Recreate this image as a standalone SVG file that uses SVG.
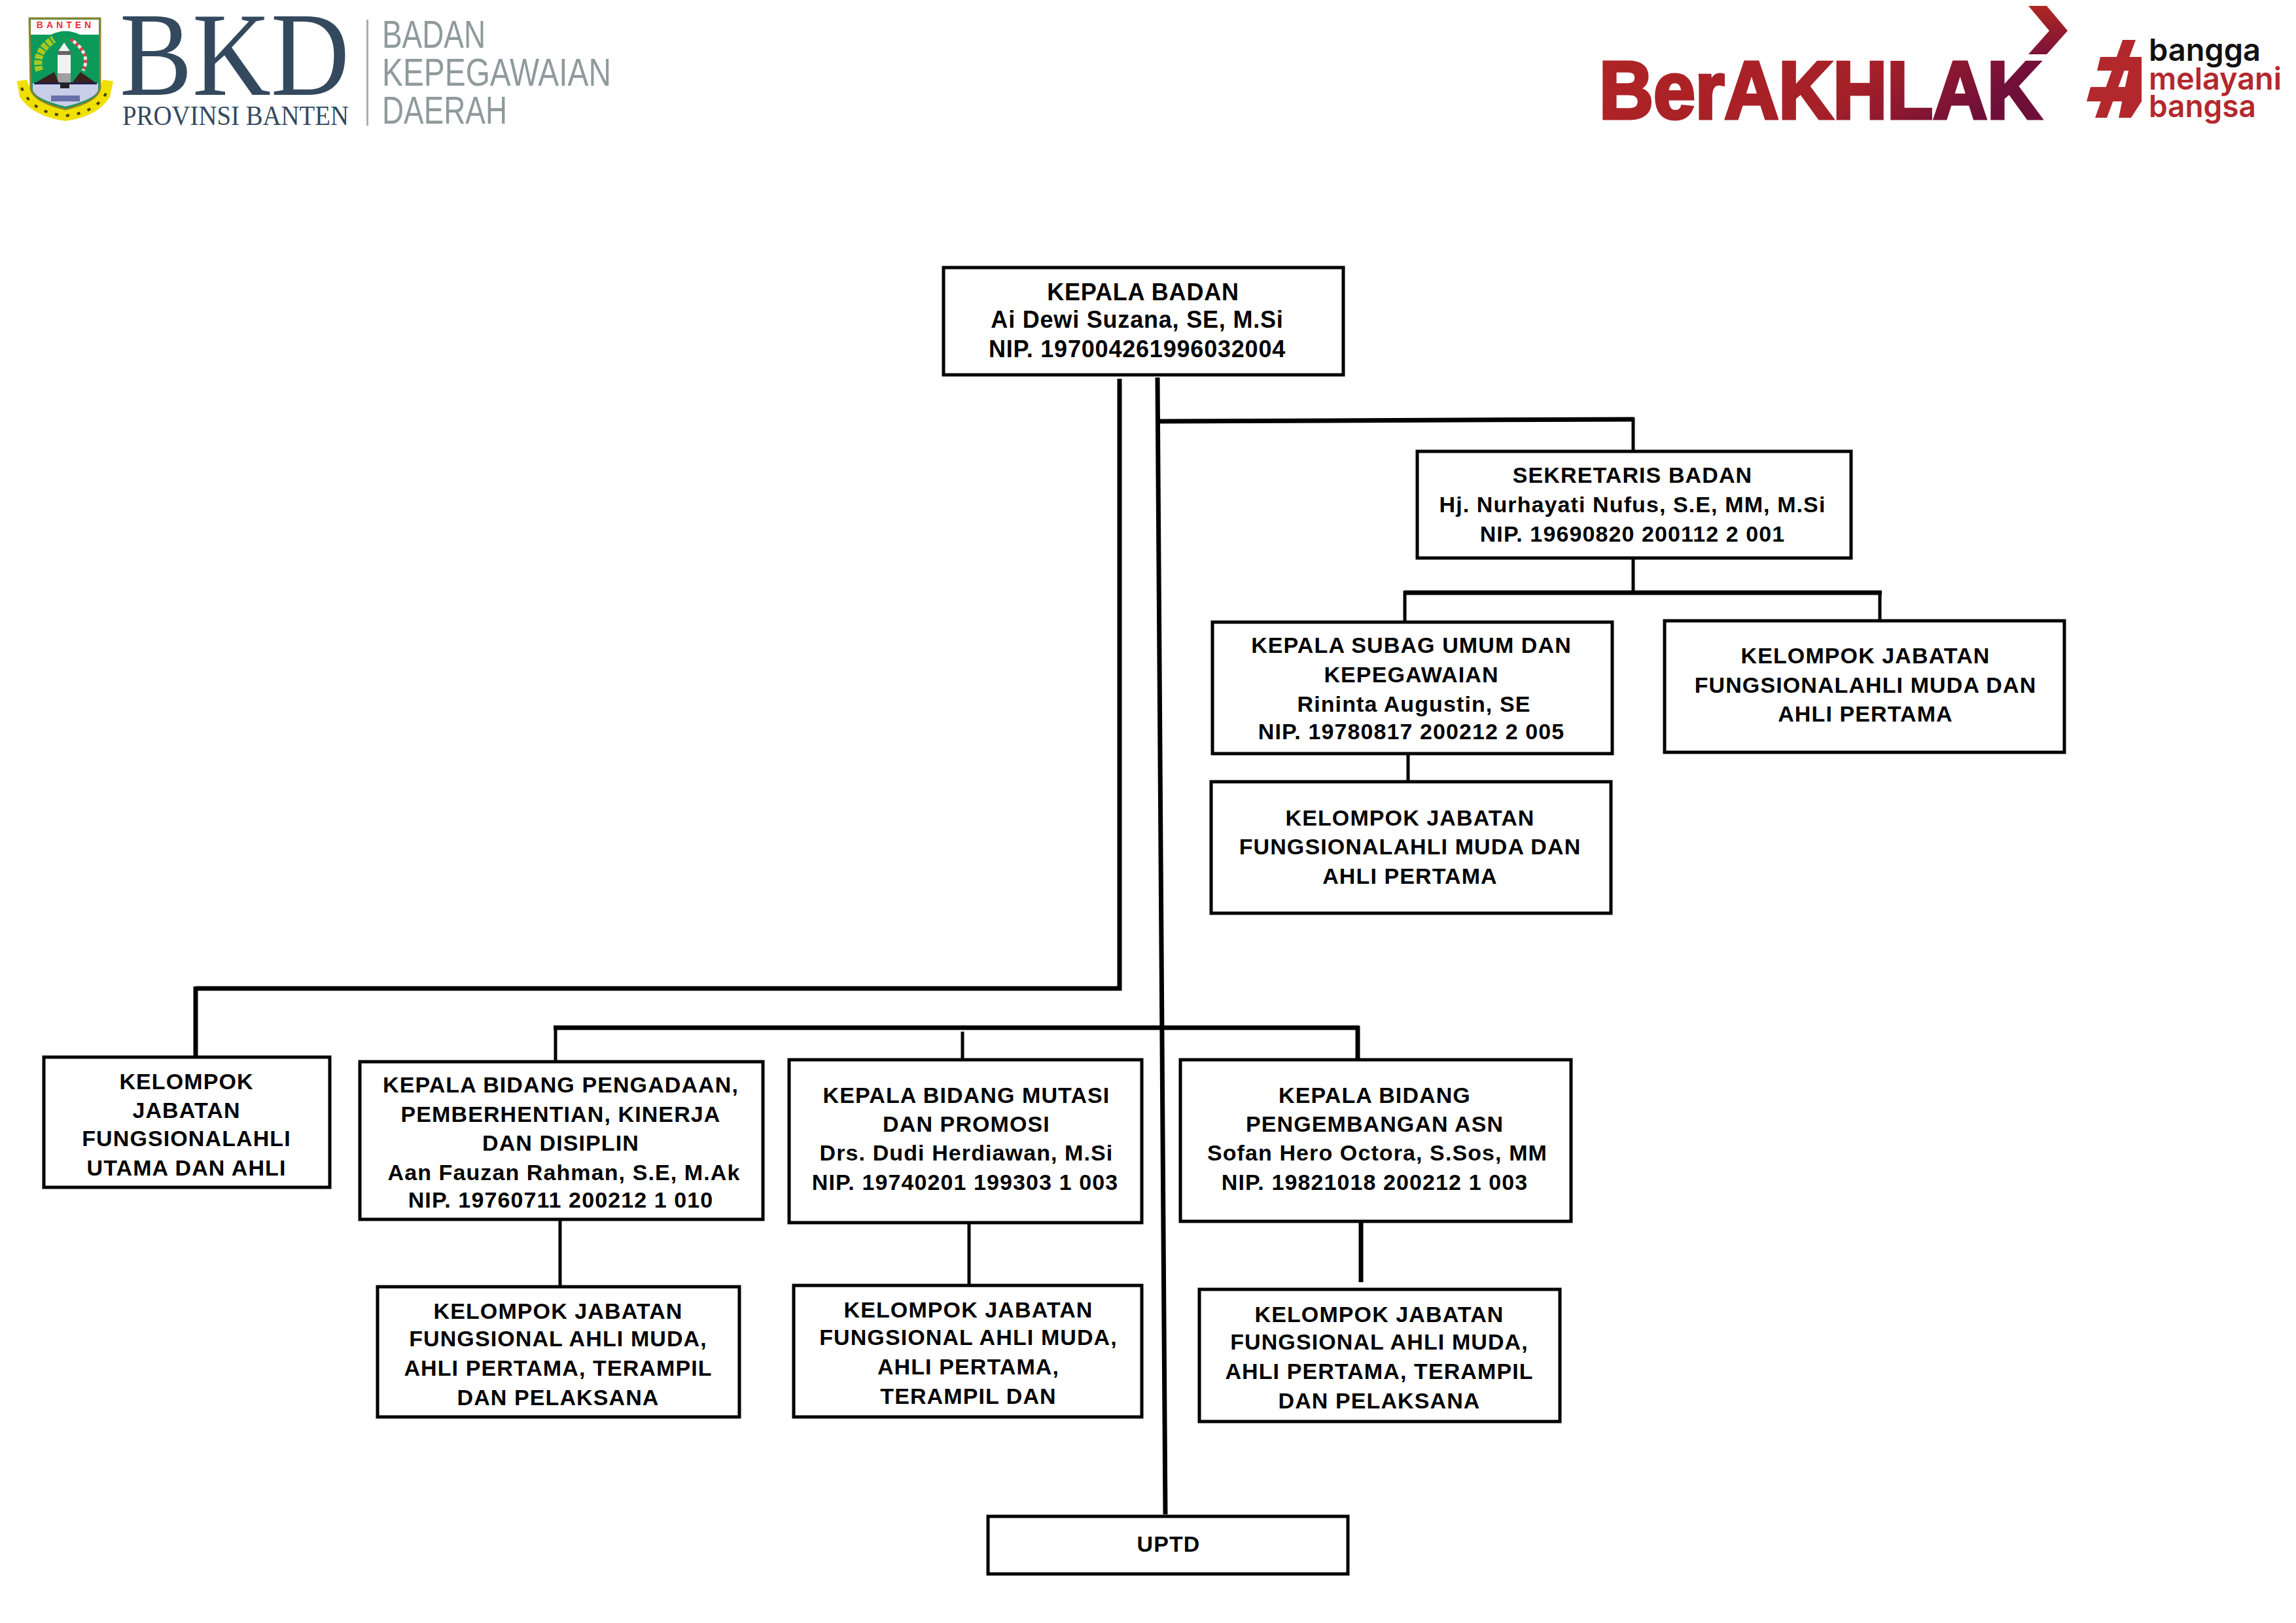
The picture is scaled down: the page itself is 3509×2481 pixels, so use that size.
<svg xmlns="http://www.w3.org/2000/svg" width="3509" height="2481" viewBox="0 0 3509 2481">
<style>
.box{fill:#fff;stroke:#000;stroke-width:5}
.t{font-family:"Liberation Sans",Arial,sans-serif;font-weight:700;font-size:34px;letter-spacing:1.1px;text-anchor:middle;fill:#000}
.big{font-size:36px;letter-spacing:.8px}
.c{fill:none;stroke:#000;stroke-linecap:butt}
.w4{stroke-width:5}.w6{stroke-width:7}
.lg{font-family:"Liberation Sans",Arial,sans-serif;fill:#8f9a9c}
.sr{font-family:"Liberation Serif","Times New Roman",serif;fill:#34495e}
.hs{font-family:"Inter","Noto Sans",sans-serif;font-weight:600;font-size:47px;fill:#b3282d}
.hf{fill:#b3282d}
</style>
<defs>
<linearGradient id="akh" x1="0" y1="0" x2="1" y2="0.25"><stop offset="0" stop-color="#b02425"/><stop offset="0.65" stop-color="#a52028"/><stop offset="1" stop-color="#6e0f3a"/></linearGradient>
<linearGradient id="chev" x1="0" y1="0" x2="0" y2="1"><stop offset="0" stop-color="#b02824"/><stop offset="1" stop-color="#7a1238"/></linearGradient>
</defs>
<rect width="3509" height="2481" fill="#fff"/>

<g id="logo-bkd">
<path d="M26 124 L41 122 Q50 150 70 158 Q100 170 130 158 Q148 150 157 122 L173 124 L168 148 Q150 178 100 185 Q50 178 30 148 Z" fill="#f0e000"/>
<path d="M33 134 Q48 172 100 177 Q152 172 166 134" fill="none" stroke="#4a4400" stroke-width="4" stroke-dasharray="5 12"/>
<path d="M45 28 H153 V135 Q150 155 100 167 Q50 155 47 135 Z" fill="#0c9a5a" stroke="#8a8430" stroke-width="3"/>
<path d="M47 30 H151 V53 H122 Q100 42 78 53 H47 Z" fill="#fff"/>
<text x="100" y="43" font-family="'Liberation Sans',sans-serif" font-weight="700" font-size="14" fill="#e8303a" text-anchor="middle" letter-spacing="5">BANTEN</text>
<path d="M60 108 Q52 80 82 60" fill="none" stroke="#a8c820" stroke-width="12" stroke-dasharray="7 2"/>
<path d="M108 60 Q140 82 127 108" fill="none" stroke="#e04050" stroke-width="5" stroke-dasharray="5 5"/>
<path d="M108 60 Q140 82 127 108" fill="none" stroke="#eee" stroke-width="5" stroke-dasharray="5 5" stroke-dashoffset="5"/>
<path d="M88 133 V80 L98 65 L108 80 V133 Z" fill="#f2f2f2"/>
<rect x="88" y="78" width="20" height="6" fill="#666"/>
<path d="M88 112 H108 V133 H88 Z" fill="#a0a0a0"/>
<path d="M53 127 L83 110 L90 127 Z M110 127 L123 110 L147 127 Z" fill="#3a2020"/>
<path d="M50 127 H150 V138 Q145 152 100 163 Q55 152 50 138 Z" fill="#c8cde8"/>
<rect x="52" y="126" width="96" height="3" fill="#20204a"/>
<rect x="78" y="146" width="44" height="9" fill="#6a70a8"/>
<rect x="92" y="127" width="14" height="8" fill="#222"/>
</g>

<g id="logo-text">
<text class="sr" x="183" y="145" font-size="183" textLength="351" lengthAdjust="spacingAndGlyphs">BKD</text>
<text class="sr" x="187" y="191" font-size="43" textLength="346" lengthAdjust="spacingAndGlyphs">PROVINSI BANTEN</text>
<rect x="560" y="30" width="3" height="162" fill="#a8aeae"/>
<text class="lg" x="584" y="73" font-size="60" textLength="158" lengthAdjust="spacingAndGlyphs">BADAN</text>
<text class="lg" x="584" y="131" font-size="60" textLength="350" lengthAdjust="spacingAndGlyphs">KEPEGAWAIAN</text>
<text class="lg" x="584" y="189" font-size="60" textLength="191" lengthAdjust="spacingAndGlyphs">DAERAH</text>
</g>

<g id="logo-berakhlak">
<text x="2444" y="181" font-family="'Liberation Sans',sans-serif" font-weight="700" font-size="124" fill="url(#akh)" textLength="676" lengthAdjust="spacingAndGlyphs" stroke="url(#akh)" stroke-width="5">BerAKHLAK</text>
<polygon points="3100,9 3128,9 3160,47 3128,83 3100,83 3132,47" fill="url(#chev)"/>
</g>

<g id="logo-hashtag">
<polygon class="hf" points="3244,61 3264,61 3220,180 3202,180"/>
<polygon class="hf" points="3210,87 3273,87 3273,108 3205,108"/>
<polygon class="hf" points="3195,133 3273,133 3273,155 3189,155"/>
<polygon class="hf" points="3253,108 3273,108 3273,155 3257,180 3238,180"/>
<text class="hs" x="3284" y="93" textLength="171" lengthAdjust="spacingAndGlyphs" style="fill:#111">bangga</text>
<text class="hs" x="3284" y="137" textLength="203" lengthAdjust="spacingAndGlyphs">melayani</text>
<text class="hs" x="3284" y="179" textLength="164" lengthAdjust="spacingAndGlyphs">bangsa</text>
</g>

<g id="connectors">
<path class="c w6" d="M1711 579 V1514"/>
<path class="c w6" d="M1714 1511 H299"/>
<path class="c w6" d="M299 1508 V1616"/>
<path class="c w6" d="M1769 577 L1781 2315"/>
<path class="c w6" d="M1770 644 L2498 641"/>
<path class="c w4" d="M2496 639 V690"/>
<path class="c w4" d="M2496 854 V909"/>
<path class="c w6" d="M2146 906 H2876"/>
<path class="c w4" d="M2147 903 V951"/>
<path class="c w4" d="M2873 903 V949"/>
<path class="c w4" d="M2152 1152 V1195"/>
<path class="c w6" d="M846 1571 H2077"/>
<path class="c w4" d="M849 1568 V1623"/>
<path class="c w4" d="M1471 1577 V1620"/>
<path class="c w6" d="M2075 1568 V1620"/>
<path class="c w4" d="M856 1864 V1967"/>
<path class="c w4" d="M1481 1869 V1965"/>
<path class="c w6" d="M2080 1867 V1960"/>
</g>

<g id="kepala-badan"><rect class="box" x="1442" y="409" width="611" height="164"/>
<text class="t big" x="1747" y="459">KEPALA BADAN</text><text class="t big" x="1738" y="501">Ai Dewi Suzana, SE, M.Si</text><text class="t big" x="1738" y="546">NIP. 197004261996032004</text></g>

<g id="sekretaris"><rect class="box" x="2166" y="690" width="663" height="163"/>
<text class="t" x="2495" y="738">SEKRETARIS BADAN</text><text class="t" x="2495" y="783">Hj. Nurhayati Nufus, S.E, MM, M.Si</text><text class="t" x="2495" y="828">NIP. 19690820 200112 2 001</text></g>

<g id="subag"><rect class="box" x="1853" y="951" width="611" height="201"/>
<text class="t" x="2157" y="998">KEPALA SUBAG UMUM DAN</text><text class="t" x="2157" y="1043">KEPEGAWAIAN</text><text class="t" x="2161" y="1088">Rininta Augustin, SE</text><text class="t" x="2157" y="1130">NIP. 19780817 200212 2 005</text></g>

<g id="kj-sekretaris"><rect class="box" x="2544" y="949" width="611" height="201"/>
<text class="t" x="2851" y="1014">KELOMPOK JABATAN</text><text class="t" x="2851" y="1059">FUNGSIONALAHLI MUDA DAN</text><text class="t" x="2851" y="1103">AHLI PERTAMA</text></g>

<g id="kj-subag"><rect class="box" x="1851" y="1195" width="611" height="201"/>
<text class="t" x="2155" y="1262">KELOMPOK JABATAN</text><text class="t" x="2155" y="1306">FUNGSIONALAHLI MUDA DAN</text><text class="t" x="2155" y="1351">AHLI PERTAMA</text></g>

<g id="kj-utama"><rect class="box" x="67" y="1616" width="437" height="199"/>
<text class="t" x="285" y="1665">KELOMPOK</text><text class="t" x="285" y="1709">JABATAN</text><text class="t" x="285" y="1752">FUNGSIONALAHLI</text><text class="t" x="285" y="1797">UTAMA DAN AHLI</text></g>

<g id="bidang-pengadaan"><rect class="box" x="550" y="1623" width="616" height="241"/>
<text class="t" x="857" y="1670">KEPALA BIDANG PENGADAAN,</text><text class="t" x="857" y="1715">PEMBERHENTIAN, KINERJA</text><text class="t" x="857" y="1759">DAN DISIPLIN</text><text class="t" x="862" y="1804">Aan Fauzan Rahman, S.E, M.Ak</text><text class="t" x="857" y="1846">NIP. 19760711 200212 1 010</text></g>

<g id="bidang-mutasi"><rect class="box" x="1206" y="1620" width="539" height="249"/>
<text class="t" x="1477" y="1686">KEPALA BIDANG MUTASI</text><text class="t" x="1477" y="1730">DAN PROMOSI</text><text class="t" x="1477" y="1774">Drs. Dudi Herdiawan, M.Si</text><text class="t" x="1475" y="1819">NIP. 19740201 199303 1 003</text></g>

<g id="bidang-pengembangan"><rect class="box" x="1804" y="1620" width="597" height="247"/>
<text class="t" x="2101" y="1686">KEPALA BIDANG</text><text class="t" x="2101" y="1730">PENGEMBANGAN ASN</text><text class="t" x="2105" y="1774">Sofan Hero Octora, S.Sos, MM</text><text class="t" x="2101" y="1819">NIP. 19821018 200212 1 003</text></g>

<g id="kj-pengadaan"><rect class="box" x="577" y="1967" width="553" height="199"/>
<text class="t" x="853" y="2016">KELOMPOK JABATAN</text><text class="t" x="853" y="2058">FUNGSIONAL AHLI MUDA,</text><text class="t" x="853" y="2103">AHLI PERTAMA, TERAMPIL</text><text class="t" x="853" y="2148">DAN PELAKSANA</text></g>

<g id="kj-mutasi"><rect class="box" x="1213" y="1965" width="532" height="201"/>
<text class="t" x="1480" y="2014">KELOMPOK JABATAN</text><text class="t" x="1480" y="2056">FUNGSIONAL AHLI MUDA,</text><text class="t" x="1480" y="2101">AHLI PERTAMA,</text><text class="t" x="1480" y="2146">TERAMPIL DAN</text></g>

<g id="kj-pengembangan"><rect class="box" x="1833" y="1971" width="551" height="202"/>
<text class="t" x="2108" y="2021">KELOMPOK JABATAN</text><text class="t" x="2108" y="2063">FUNGSIONAL AHLI MUDA,</text><text class="t" x="2108" y="2108">AHLI PERTAMA, TERAMPIL</text><text class="t" x="2108" y="2153">DAN PELAKSANA</text></g>

<g id="uptd"><rect class="box" x="1510" y="2318" width="550" height="88"/>
<text class="t" x="1786" y="2372">UPTD</text></g>
</svg>
